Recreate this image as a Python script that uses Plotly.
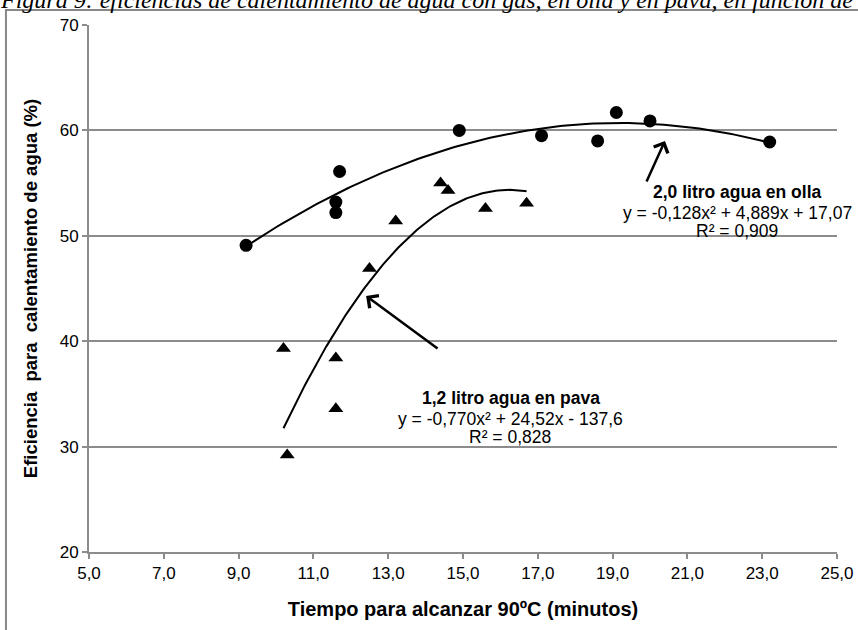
import numpy as np
import plotly.graph_objects as go

# ---- data ----
olla_x = [9.2, 11.6, 11.6, 11.7, 14.9, 17.1, 18.6, 19.1, 20.0, 23.2]
olla_y = [49.1, 52.2, 53.2, 56.1, 60.0, 59.5, 59.0, 61.7, 60.9, 58.9]
pava_x = [10.2, 10.3, 11.6, 11.6, 12.5, 13.2, 14.4, 14.6, 15.6, 16.7]
pava_y = [39.3, 29.2, 38.4, 33.6, 46.9, 51.4, 55.0, 54.3, 52.6, 53.1]
x_ticks = [5, 7, 9, 11, 13, 15, 17, 19, 21, 23, 25]
x_tick_labels = ["5,0", "7,0", "9,0", "11,0", "13,0", "15,0", "17,0", "19,0", "21,0", "23,0", "25,0"]
y_ticks = [20, 30, 40, 50, 60, 70]
olla_label = "2,0 litro agua en olla"
olla_eq = "y = -0,128x² + 4,889x + 17,07"
olla_r2 = "R² = 0,909"
pava_label = "1,2 litro agua en pava"
pava_eq = "y = -0,770x² + 24,52x - 137,6"
pava_r2 = "R² = 0,828"
title_text = "Figura 9: eficiencias de calentamiento de agua con gas, en olla y en pava, en función de"

FONT = "Liberation Sans, Arial, sans-serif"
GRID = "#8c8c8c"


def trend(xs, ys):
    c = np.polyfit(xs, ys, 2)
    xx = np.linspace(min(xs), max(xs), 120)
    return xx, np.polyval(c, xx)


fig = go.Figure()
tx, ty = trend(olla_x, olla_y)
fig.add_trace(go.Scatter(x=tx, y=ty, mode="lines", line=dict(color="black", width=2),
                         hoverinfo="skip", showlegend=False))
tx, ty = trend(pava_x, pava_y)
fig.add_trace(go.Scatter(x=tx, y=ty, mode="lines", line=dict(color="black", width=2),
                         hoverinfo="skip", showlegend=False))
fig.add_trace(go.Scatter(x=olla_x, y=olla_y, mode="markers", name="olla",
                         marker=dict(symbol="circle", size=13, color="black"), showlegend=False))
fig.add_trace(go.Scatter(x=pava_x, y=pava_y, mode="markers", name="pava",
                         marker=dict(symbol="triangle-up", size=13, color="black"), showlegend=False))

fig.update_xaxes(range=[5, 25], tickvals=x_ticks, ticktext=x_tick_labels, automargin=False,
                 showgrid=False, zeroline=False, showline=True, linecolor=GRID, linewidth=2,
                 ticks="outside", ticklen=5, tickwidth=2, tickcolor=GRID,
                 tickfont=dict(family=FONT, size=17, color="black"),
                 title=dict(text="<b>Tiempo para alcanzar 90ºC (minutos)</b>",
                            font=dict(family=FONT, size=20, color="black"), standoff=20))
fig.update_yaxes(range=[20, 70], tickvals=y_ticks, automargin=False,
                 showgrid=True, gridcolor=GRID, gridwidth=2, zeroline=False,
                 showline=True, linecolor=GRID, linewidth=2,
                 ticks="outside", ticklen=5, tickwidth=2, tickcolor=GRID,
                 tickfont=dict(family=FONT, size=17, color="black"),
                 title=dict(text="<b>Eficiencia\u00a0 para\u00a0 calentamiento de agua (%)</b>",
                            font=dict(family=FONT, size=18.5, color="black"), standoff=17))

anns = []
# olla text block
anns.append(dict(x=22.35, y=54.2, xref="x", yref="y", text="<b>" + olla_label + "</b>",
                 showarrow=False, font=dict(family=FONT, size=17.5, color="black")))
anns.append(dict(x=22.33, y=52.15, xref="x", yref="y", text=olla_eq,
                 showarrow=False, font=dict(family=FONT, size=17.5, color="black")))
anns.append(dict(x=22.33, y=50.5, xref="x", yref="y", text=olla_r2,
                 showarrow=False, font=dict(family=FONT, size=17.5, color="black")))
# pava text block
anns.append(dict(x=16.28, y=34.6, xref="x", yref="y", text="<b>" + pava_label + "</b>",
                 showarrow=False, font=dict(family=FONT, size=17.5, color="black")))
anns.append(dict(x=16.26, y=32.65, xref="x", yref="y", text=pava_eq,
                 showarrow=False, font=dict(family=FONT, size=17.5, color="black")))
anns.append(dict(x=16.26, y=30.95, xref="x", yref="y", text=pava_r2,
                 showarrow=False, font=dict(family=FONT, size=17.5, color="black")))
# arrows
anns.append(dict(x=20.40, y=59.0, ax=19.89, ay=55.0, xref="x", yref="y", axref="x", ayref="y",
                 text="", showarrow=True, arrowhead=4, arrowsize=1.2, arrowwidth=2.5, arrowcolor="black"))
anns.append(dict(x=12.41, y=44.3, ax=14.36, ay=39.2, xref="x", yref="y", axref="x", ayref="y",
                 text="", showarrow=True, arrowhead=4, arrowsize=1.2, arrowwidth=2.5, arrowcolor="black"))
# clipped caption at the top
anns.append(dict(x=-0.121, y=1.0196, xref="paper", yref="paper", xanchor="left", yanchor="bottom",
                 text="<i>" + title_text + "</i>", showarrow=False,
                 font=dict(family="Liberation Serif, Times New Roman, serif", size=24, color="black")))

fig.update_layout(
    width=858, height=630,
    margin=dict(l=89, r=21, t=25, b=78),
    paper_bgcolor="white", plot_bgcolor="white",
    annotations=anns,
    shapes=[dict(type="rect", xref="paper", yref="paper", x0=-0.111, x1=1.1, y0=-0.3, y1=1.0285,
                 line=dict(color="#888888", width=2), fillcolor="rgba(0,0,0,0)", layer="below")],
)

# remove the default 8px page margin so the figure sits at the window's corner
fig.write_html("out.html", config={"displayModeBar": False},
               post_script="document.body.style.margin='0px';")
